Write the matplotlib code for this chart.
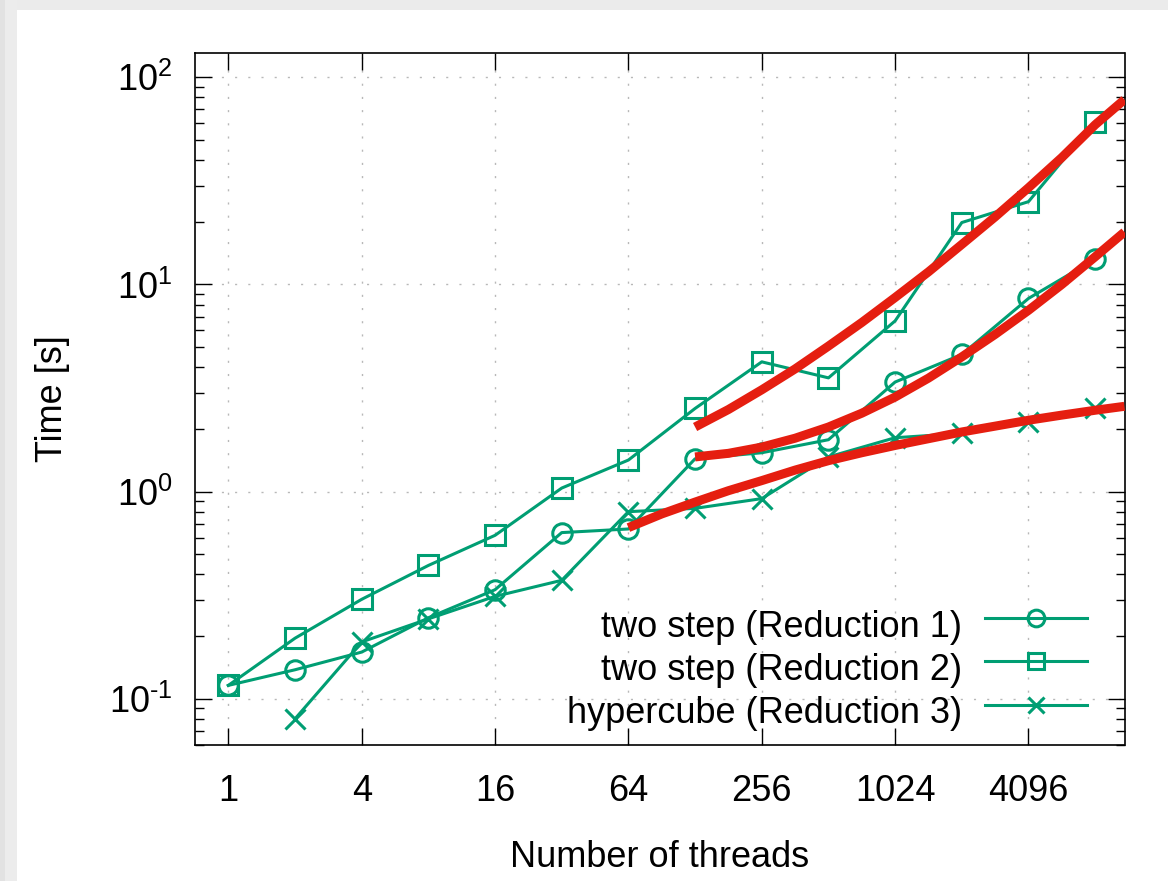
import math
import matplotlib
matplotlib.use('Agg')
import matplotlib.pyplot as plt
from matplotlib.lines import Line2D
from matplotlib.patches import Rectangle
from matplotlib.ticker import FixedLocator, LogLocator, NullFormatter, FuncFormatter, NullLocator

# ---------------- data ----------------
threads = [1, 2, 4, 8, 16, 32, 64, 128, 256, 512, 1024, 2048, 4096, 8192]
time_red1 = [0.116, 0.138, 0.168, 0.246, 0.336, 0.634, 0.66, 1.44, 1.54, 1.78, 3.38, 4.59, 8.56, 13.25]
time_red2 = [0.116, 0.196, 0.302, 0.44, 0.615, 1.04, 1.42, 2.52, 4.23, 3.54, 6.67, 19.9, 25.1, 61.1]
threads_red3 = [2, 4, 8, 16, 32, 64, 128, 256, 512, 1024, 2048, 4096, 8192]
time_red3 = [0.080, 0.188, 0.243, 0.312, 0.373, 0.80, 0.83, 0.925, 1.47, 1.82, 1.91, 2.17, 2.52]

# fitted model curves
fit_x12 = [128, 181, 256, 362, 512, 724, 1024, 1448, 2048, 2896, 4096, 5793, 8192, 11100]
fit_red1 = [1.47, 1.53, 1.64, 1.81, 2.05, 2.39, 2.86, 3.53, 4.47, 5.74, 7.5, 10.0, 13.6, 17.9]
fit_red2 = [2.05, 2.49, 3.10, 3.91, 5.04, 6.55, 8.65, 11.5, 15.6, 21.2, 29.3, 41.0, 59.0, 78.0]
fit_x3 = [64, 90.5, 128, 181, 256, 362, 512, 724, 1024, 1448, 2048, 2896, 4096, 5793, 8192, 11100]
fit_red3 = [0.67, 0.78, 0.89, 1.01, 1.13, 1.27, 1.41, 1.54, 1.67, 1.80, 1.94, 2.07, 2.21, 2.34, 2.47, 2.58]

x_ticks = [1, 4, 16, 64, 256, 1024, 4096]
x_ticklabels = ['1', '4', '16', '64', '256', '1024', '4096']
labels = ['two step (Reduction 1)', 'two step (Reduction 2)', 'hypercube (Reduction 3)']

# ---------------- style ----------------
plt.rcParams['font.family'] = ['Liberation Sans', 'DejaVu Sans']
plt.rcParams['mathtext.fontset'] = 'custom'
plt.rcParams['mathtext.rm'] = 'Liberation Sans'
plt.rcParams['mathtext.it'] = 'Liberation Sans:italic'
plt.rcParams['mathtext.bf'] = 'Liberation Sans:bold'

GREEN = '#009e73'
RED = '#e51e10'
FS = 26

fig = plt.figure(figsize=(11.68, 8.81), dpi=100)
fig.patch.set_facecolor('white')

# screenshot border strips
fig.add_artist(Rectangle((0, 1 - 10 / 881), 1, 10 / 881, transform=fig.transFigure,
                         facecolor='#ebebeb', edgecolor='none', zorder=-10))
fig.add_artist(Rectangle((0, 0), 17 / 1168, 1, transform=fig.transFigure,
                         facecolor='#ececec', edgecolor='none', zorder=-10))
fig.add_artist(Rectangle((0, 0), 5 / 1168, 1, transform=fig.transFigure,
                         facecolor='#e2e2e2', edgecolor='none', zorder=-9))

ax = fig.add_axes([195 / 1168, (881 - 745) / 881, (1124.5 - 195) / 1168, (745 - 53) / 881])
ax.set_xscale('log', base=2)
ax.set_yscale('log')
ax.set_xlim(2 ** -0.5, 2 ** 13.44)
ax.set_ylim(0.0598, 131)

# grid
ax.grid(True, which='major', color='#b8b8b8', linestyle=(0, (1.5, 8)), linewidth=1.0)
ax.set_axisbelow(True)

lw = 2.2
ms_kw = dict(markerfacecolor='none', markeredgecolor=GREEN, markeredgewidth=2.2)
ax.plot(threads, time_red1, color=GREEN, lw=lw, marker='o', markersize=14, **ms_kw, zorder=3)
ax.plot(threads, time_red2, color=GREEN, lw=lw, marker='s', markersize=14, **ms_kw, zorder=3)
ax.plot(threads_red3, time_red3, color=GREEN, lw=lw, marker='x', markersize=14, **ms_kw, zorder=3)

ax.plot(fit_x12, fit_red2, color=RED, lw=6.5, solid_capstyle='butt', solid_joinstyle='round', zorder=4)
ax.plot(fit_x12, fit_red1, color=RED, lw=6.5, solid_capstyle='butt', solid_joinstyle='round', zorder=4)
ax.plot(fit_x3, fit_red3, color=RED, lw=6.5, solid_capstyle='butt', solid_joinstyle='round', zorder=4)


def yfmt(v, p):
    e = round(math.log10(v))
    if e < 0:
        return r'$\mathregular{10^{\text{-}%d}}$' % (-e)
    return r'$\mathregular{10^{%d}}$' % e


# ticks
ax.xaxis.set_major_locator(FixedLocator(x_ticks))
ax.xaxis.set_minor_locator(NullLocator())
ax.set_xticklabels(x_ticklabels)
ax.yaxis.set_major_locator(LogLocator(base=10, numticks=10))
ax.yaxis.set_minor_locator(LogLocator(base=10, subs=range(2, 10), numticks=20))
ax.yaxis.set_minor_formatter(NullFormatter())
ax.yaxis.set_major_formatter(FuncFormatter(yfmt))

ax.tick_params(axis='both', which='major', direction='in', length=12.5, width=1.0,
               top=True, right=True, labelsize=FS, color='black')
ax.tick_params(axis='y', which='minor', direction='in', length=6.5, width=1.0,
               left=True, right=True, color='black')
ax.tick_params(axis='x', which='major', pad=21)
ax.tick_params(axis='y', which='major', pad=16)

for s in ax.spines.values():
    s.set_linewidth(1.2)
    s.set_color('black')

ax.set_xlabel('Number of threads', fontsize=FS, labelpad=22)
ax.set_ylabel('Time [s]', fontsize=FS, labelpad=28)

# legend (drawn manually: right-aligned text, sample line to the right)
handles_style = ['o', 's', 'x']
text_y = [0.1565, 0.0939, 0.0314]
line_y = [0.1835, 0.1207, 0.0578]
for lab, mk, ty, ly in zip(labels, handles_style, text_y, line_y):
    ax.text(0.8249, ty, lab, transform=ax.transAxes, ha='right', va='baseline', fontsize=FS, zorder=5)
    ax.add_line(Line2D([0.850, 0.9596], [ly, ly], transform=ax.transAxes, color=GREEN, lw=lw, zorder=5))
    ax.add_line(Line2D([0.9053], [ly], transform=ax.transAxes, color=GREEN, lw=0,
                       markersize=12 if mk != 's' else 11, marker=mk,
                       markerfacecolor='none', markeredgecolor=GREEN, markeredgewidth=2.2, zorder=5))

fig.savefig('out.png', dpi=100)
